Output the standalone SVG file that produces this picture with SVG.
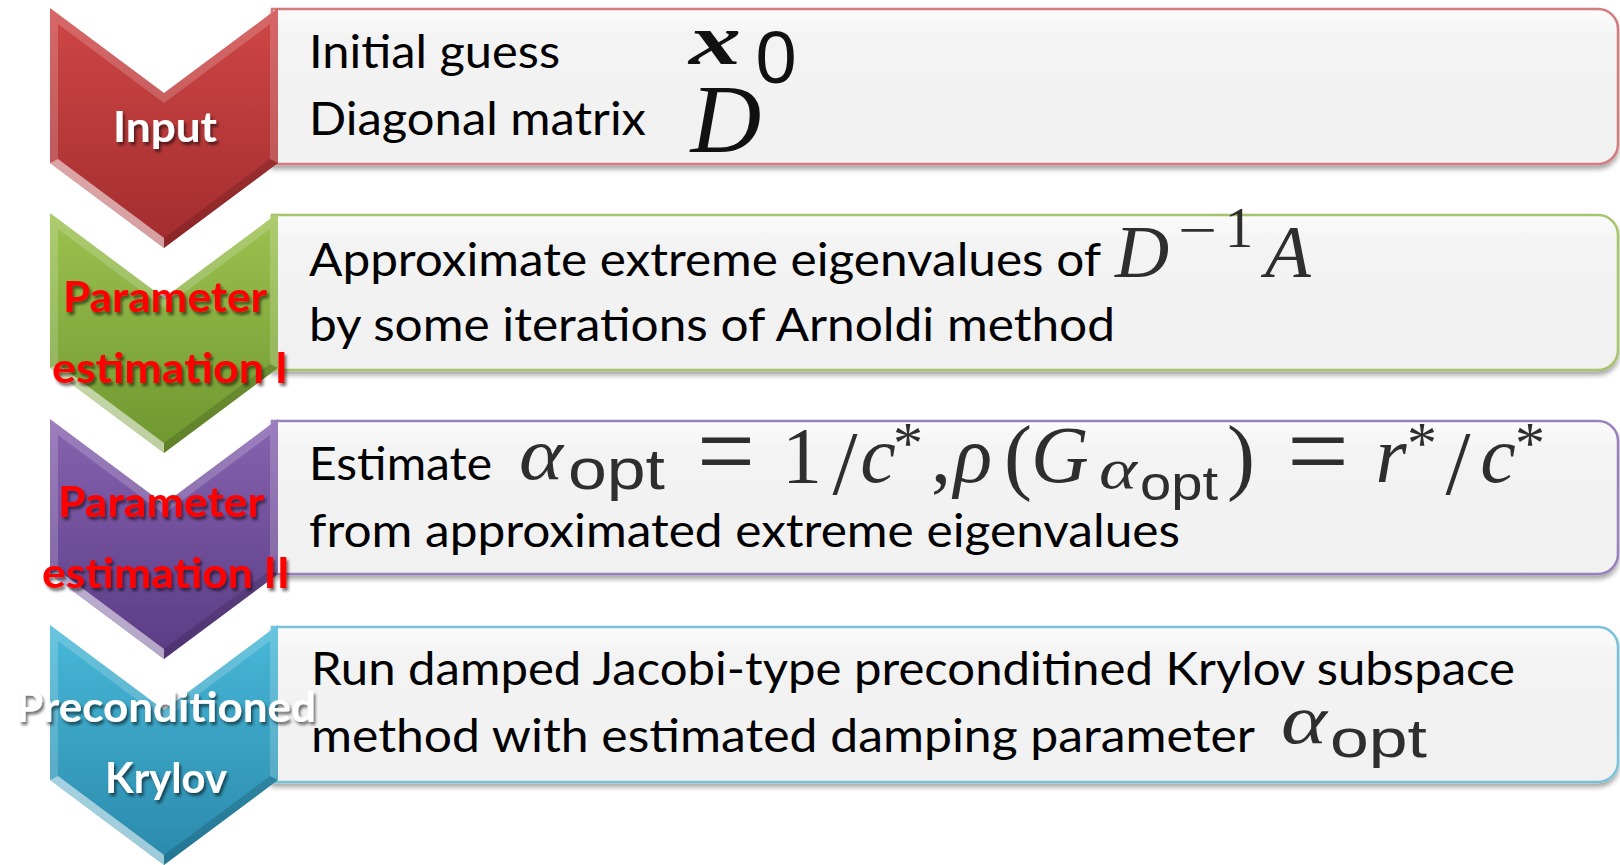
<svg xmlns="http://www.w3.org/2000/svg" width="1620" height="865" viewBox="0 0 1620 865">
<defs>
<style>
.txt{font-family:Lato,"Liberation Sans",sans-serif;font-size:46px;fill:#000}
.lbl{font-family:Lato,"Liberation Sans",sans-serif;font-size:42px;font-weight:700;text-anchor:middle}
.w{fill:#fff}
.r{fill:#ff0000}
.mi{font-family:"Liberation Serif","Times New Roman",serif;font-style:italic;text-anchor:middle;fill:#2e2e2e}
.mu{font-family:"Liberation Serif","Times New Roman",serif;font-style:normal;text-anchor:middle;fill:#2e2e2e}
.ms{font-family:"Liberation Sans",sans-serif;fill:#2e2e2e}
.st{text-anchor:start}
.box{stroke-width:2.5}
.hl{fill:#fff;opacity:.55}
.hl2{fill:#fff;opacity:.18}
.dk{fill:#000;opacity:.14}
</style>
<linearGradient id="gRed" x1="0" y1="0" x2="0" y2="1"><stop offset="0" stop-color="#cf4746"/><stop offset="1" stop-color="#a22c2f"/></linearGradient>
<linearGradient id="gGreen" x1="0" y1="0" x2="0" y2="1"><stop offset="0" stop-color="#9cc250"/><stop offset="1" stop-color="#6e962f"/></linearGradient>
<linearGradient id="gPurple" x1="0" y1="0" x2="0" y2="1"><stop offset="0" stop-color="#8763b0"/><stop offset="1" stop-color="#5a3b84"/></linearGradient>
<linearGradient id="gTeal" x1="0" y1="0" x2="0" y2="1"><stop offset="0" stop-color="#48b8d8"/><stop offset="1" stop-color="#2a89ab"/></linearGradient>
<linearGradient id="gBox" x1="0" y1="0" x2="0" y2="1"><stop offset="0" stop-color="#fbfbfb"/><stop offset="0.2" stop-color="#f3f3f3"/><stop offset="1" stop-color="#f1f1f1"/></linearGradient>
<filter id="bs" x="-2%" y="-10%" width="104%" height="130%"><feDropShadow dx="0" dy="4" stdDeviation="2.5" flood-color="#000" flood-opacity="0.35"/></filter>
<filter id="ts" x="-20%" y="-30%" width="140%" height="170%"><feDropShadow dx="2" dy="3" stdDeviation="1.5" flood-color="#000" flood-opacity="0.55"/></filter>
<g id="bevel">
<polygon class="hl2" points="50,0 164,85 164,95 58,16"/>
<polygon class="hl2" points="164,85 278,0 270,16 164,95"/>
<polygon class="hl2" points="278,0 278,155 270,151 270,16"/>
<polygon class="dk" points="278,155 164,240 164,230 270,151"/>
<polygon class="hl" points="164,240 50,155 58,151 164,230"/>
<polygon class="hl2" points="50,155 50,0 58,16 58,151"/>
</g>
</defs>
<rect width="1620" height="865" fill="#fff"/>

<g id="node-input">
<path class="box" d="M272 9H1598A20 20 0 0 1 1618 29V144A20 20 0 0 1 1598 164H272Z" fill="url(#gBox)" stroke="#d37b7e" filter="url(#bs)"/>
<polygon points="50,8 164,93 278,8 278,163 164,248 50,163" fill="url(#gRed)"/>
<use href="#bevel" transform="translate(0,8)"/>
<text class="lbl w" x="165" y="142" textLength="104" lengthAdjust="spacingAndGlyphs" filter="url(#ts)">Input</text>
<text class="txt" x="309" y="68" textLength="251" lengthAdjust="spacingAndGlyphs">Initial guess</text>
<text class="txt" x="309" y="135" textLength="337" lengthAdjust="spacingAndGlyphs">Diagonal matrix</text>
<text class="mi st" x="689" y="64" font-size="71" font-weight="700" textLength="52" lengthAdjust="spacingAndGlyphs" style="fill:#111">x</text>
<text class="ms" x="776" y="83" font-size="74" text-anchor="middle" style="fill:#111">0</text>
<text class="mi" x="726" y="152" font-size="98" style="fill:#111">D</text>
</g>

<g id="node-param1">
<path class="box" d="M272 215H1598A20 20 0 0 1 1618 235V350A20 20 0 0 1 1598 370H272Z" fill="url(#gBox)" stroke="#a6c46a" filter="url(#bs)"/>
<polygon points="50,213 164,298 278,213 278,368 164,453 50,368" fill="url(#gGreen)"/>
<use href="#bevel" transform="translate(0,213)"/>
<text class="lbl r" x="165" y="312" textLength="204" lengthAdjust="spacingAndGlyphs" filter="url(#ts)">Parameter</text>
<text class="lbl r" x="170" y="383" textLength="236" lengthAdjust="spacingAndGlyphs" filter="url(#ts)">estimation I</text>
<text class="txt" x="309" y="276" textLength="792" lengthAdjust="spacingAndGlyphs">Approximate extreme eigenvalues of</text>
<text class="txt" x="309" y="341" textLength="806" lengthAdjust="spacingAndGlyphs">by some iterations of Arnoldi method</text>
<text class="mi" x="1142" y="277" font-size="75">D</text>
<text class="mu st" x="1178" y="249" font-size="56" textLength="39" lengthAdjust="spacingAndGlyphs">−</text>
<text class="mu" x="1239" y="247" font-size="57">1</text>
<text class="mi" x="1288" y="277" font-size="75">A</text>
</g>

<g id="node-param2">
<path class="box" d="M272 421H1598A20 20 0 0 1 1618 441V554A20 20 0 0 1 1598 574H272Z" fill="url(#gBox)" stroke="#9880bb" filter="url(#bs)"/>
<polygon points="50,419 164,504 278,419 278,574 164,659 50,574" fill="url(#gPurple)"/>
<use href="#bevel" transform="translate(0,419)"/>
<text class="lbl r" x="161" y="517" textLength="206" lengthAdjust="spacingAndGlyphs" filter="url(#ts)">Parameter</text>
<text class="lbl r" x="166" y="588" textLength="248" lengthAdjust="spacingAndGlyphs" filter="url(#ts)">estimation II</text>
<text class="txt" x="309" y="480" textLength="183" lengthAdjust="spacingAndGlyphs">Estimate</text>
<text class="txt" x="309" y="547" textLength="871" lengthAdjust="spacingAndGlyphs">from approximated extreme eigenvalues</text>
<text class="mi st" x="519" y="479" font-size="74" textLength="44" lengthAdjust="spacingAndGlyphs">α</text>
<text class="ms" x="568" y="489" font-size="58" textLength="97" lengthAdjust="spacingAndGlyphs">opt</text>
<text class="mu st" x="697" y="488" font-size="110" textLength="58" lengthAdjust="spacingAndGlyphs">=</text>
<text class="mu" x="802" y="483" font-size="80">1</text>
<text class="mu" x="845" y="494" font-size="90">/</text>
<text class="mi" x="878" y="482" font-size="80">c</text>
<text class="mu" x="908" y="463" font-size="60">*</text>
<text class="mu" x="941" y="482" font-size="80">,</text>
<text class="mi" x="973" y="482" font-size="80">ρ</text>
<text class="mu" x="1018" y="484" font-size="84">(</text>
<text class="mi" x="1060" y="482" font-size="80">G</text>
<text class="mi st" x="1099" y="488" font-size="56" textLength="38" lengthAdjust="spacingAndGlyphs">α</text>
<text class="ms" x="1140" y="500" font-size="48" textLength="78" lengthAdjust="spacingAndGlyphs">opt</text>
<text class="mu" x="1241" y="484" font-size="84">)</text>
<text class="mu st" x="1287" y="488" font-size="110" textLength="62" lengthAdjust="spacingAndGlyphs">=</text>
<text class="mi" x="1391" y="482" font-size="80">r</text>
<text class="mu" x="1422" y="463" font-size="60">*</text>
<text class="mu" x="1458" y="494" font-size="90">/</text>
<text class="mi" x="1498" y="482" font-size="80">c</text>
<text class="mu" x="1530" y="463" font-size="60">*</text>
</g>

<g id="node-krylov">
<path class="box" d="M272 627H1598A20 20 0 0 1 1618 647V762A20 20 0 0 1 1598 782H272Z" fill="url(#gBox)" stroke="#78c2d8" filter="url(#bs)"/>
<polygon points="50,625 164,710 278,625 278,780 164,865 50,780" fill="url(#gTeal)"/>
<use href="#bevel" transform="translate(0,625)"/>
<text class="lbl w" x="166" y="722" textLength="300" lengthAdjust="spacingAndGlyphs" filter="url(#ts)">Preconditioned</text>
<text class="lbl w" x="166" y="793" textLength="122" lengthAdjust="spacingAndGlyphs" filter="url(#ts)">Krylov</text>
<text class="txt" x="311" y="685" textLength="1204" lengthAdjust="spacingAndGlyphs">Run damped Jacobi-type preconditined Krylov subspace</text>
<text class="txt" x="311" y="752" textLength="944" lengthAdjust="spacingAndGlyphs">method with estimated damping parameter</text>
<text class="mi st" x="1281" y="743" font-size="70" textLength="46" lengthAdjust="spacingAndGlyphs">α</text>
<text class="ms" x="1330" y="757" font-size="54" textLength="97" lengthAdjust="spacingAndGlyphs">opt</text>
</g>

<g id="connectors"></g>
</svg>
